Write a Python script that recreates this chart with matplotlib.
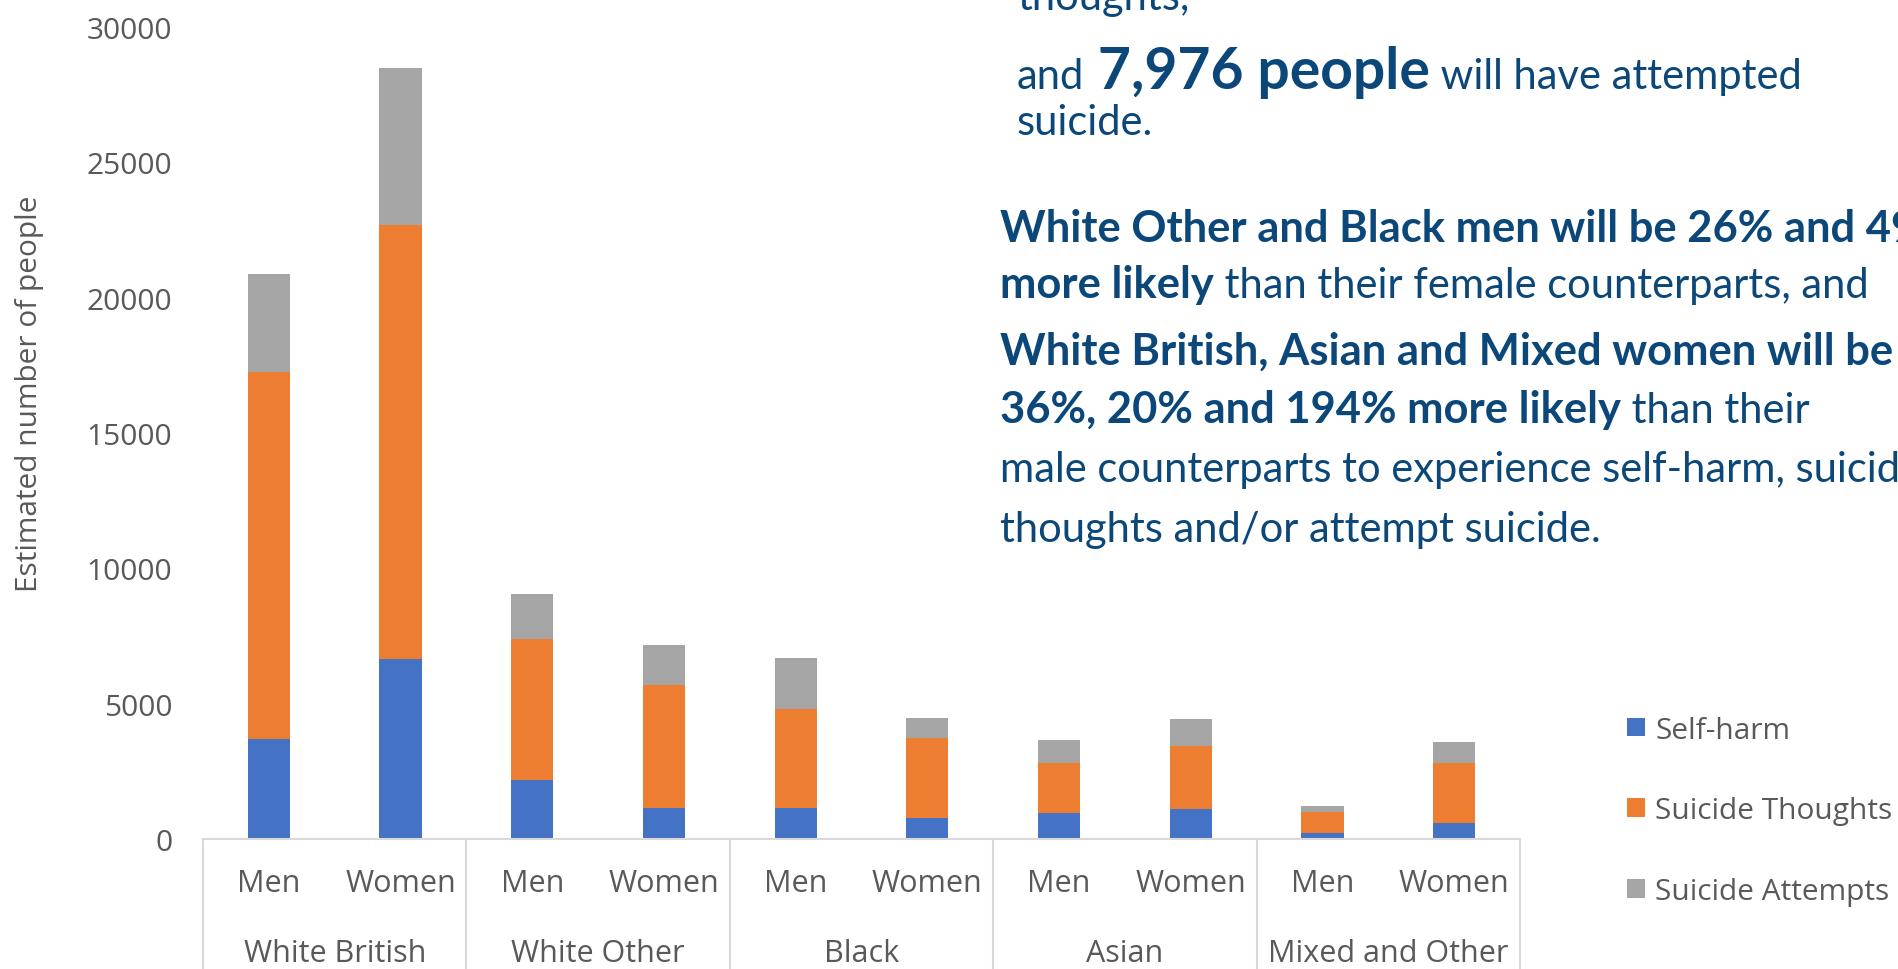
import matplotlib
matplotlib.use('Agg')
import matplotlib.pyplot as plt
import matplotlib.transforms as mtransforms
import numpy as np

# estimated number of people, by ethnic group and sex
groups = ['White British', 'White Other', 'Black', 'Asian', 'Mixed and Other']
sexes = ['Men', 'Women']
self_harm = [3700, 6650, 2190, 1140, 1150, 780, 960, 1100, 220, 600]
thoughts = [13550, 16050, 5200, 4540, 3640, 2970, 1840, 2320, 790, 2200]
attempts = [3630, 5780, 1665, 1480, 1900, 730, 850, 1010, 210, 790]

W, H = 1899, 970
BLUE_TXT = '#0b4778'
GREY_TXT = '#595959'
LINE = '#d9d9d9'

plt.rcParams['font.family'] = ['Open Sans', 'DejaVu Sans']

fig = plt.figure(figsize=(W / 100, H / 100), dpi=100)
ax = fig.add_axes([203 / W, 1 - 840 / H, (1520 - 203) / W, (840 - 28) / H])

x = np.arange(len(self_harm))
bw = 0.32
sh = np.array(self_harm)
th = np.array(thoughts)
at = np.array(attempts)
ax.bar(x, sh, bw, color='#4472c4', label='Self-harm')
ax.bar(x, th, bw, bottom=sh, color='#ed7d31', label='Suicide Thoughts')
ax.bar(x, at, bw, bottom=sh + th, color='#a5a5a5', label='Suicide Attempts')

ax.set_xlim(-0.5, len(x) - 0.5)
ax.set_ylim(0, 30000)
ax.set_yticks(range(0, 30001, 5000))
ax.tick_params(axis='y', length=0, pad=22, labelsize=21.5, labelcolor=GREY_TXT)
ax.set_xticks(x)
ax.set_xticklabels(sexes * len(groups))
ax.tick_params(axis='x', length=0, pad=21, labelsize=22, labelcolor=GREY_TXT)
for s in ['top', 'right', 'left']:
    ax.spines[s].set_visible(False)
ax.spines['bottom'].set_color(LINE)
ax.spines['bottom'].set_linewidth(1.5)

# group names and separators under the axis
trans = mtransforms.blended_transform_factory(ax.transData, ax.transAxes)
for i, g in enumerate(groups):
    ax.text(2 * i + 0.5, -0.14, g, transform=trans, ha='center', va='center',
            fontsize=22, color=GREY_TXT)
for b in np.arange(-0.5, len(x), 2):
    ax.plot([b, b], [0, -0.2], transform=trans, color=LINE, lw=1.5, clip_on=False)

fig.text(30 / W, 1 - 394 / H, 'Estimated number of people', rotation=90,
         ha='center', va='center', fontsize=21.5, color=GREY_TXT)

fig.legend(loc='center left', bbox_to_anchor=(1627 / W, 1 - 812 / H), frameon=False,
           fontsize=21.5, handlelength=0.6, handleheight=0.6, handletextpad=0.35,
           labelspacing=1.74, borderpad=0, borderaxespad=0, labelcolor=GREY_TXT)

# annotation text, drawn run by run so bold and regular parts share a line
renderer = fig.canvas.get_renderer()


def draw_runs(px, py, runs):
    for text, size, weight in runs:
        t = fig.text(px / W, 1 - py / H, text, fontsize=size, fontweight=weight,
                     color=BLUE_TXT, family='Lato', ha='left', va='baseline')
        px += t.get_window_extent(renderer).width


REG, BOLD = 30, 31.3
draw_runs(1017, 10, [('thoughts,', REG, 'normal')])
draw_runs(1017, 89, [('and', REG, 'normal'), (' 7,976 people', 41, 'bold'),
                     (' will have attempted', REG, 'normal')])
draw_runs(1017, 135, [('suicide.', REG, 'normal')])
draw_runs(1000, 242, [('White Other and Black men will be 26% and 49%', BOLD, 'bold')])
draw_runs(1000, 298, [('more likely', BOLD, 'bold'),
                      (' than their female counterparts, and', REG, 'normal')])
draw_runs(1000, 365, [('White British, Asian and Mixed women will be', BOLD, 'bold')])
draw_runs(1000, 423, [('36%, 20% and 194% more likely', BOLD, 'bold'),
                      (' than their', REG, 'normal')])
draw_runs(1000, 482, [('male counterparts to experience self-harm, suicidal', REG, 'normal')])
draw_runs(1000, 542, [('thoughts and/or attempt suicide.', REG, 'normal')])

fig.savefig('out.png', dpi=100)
